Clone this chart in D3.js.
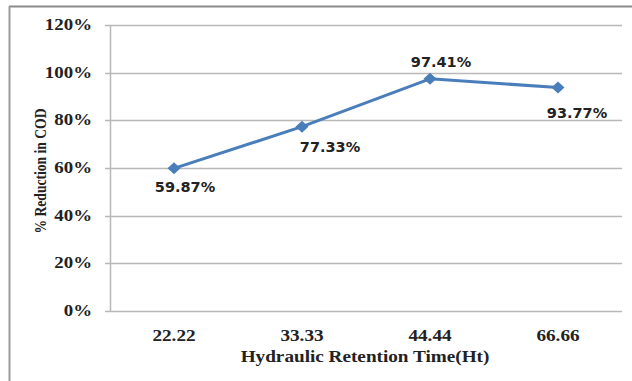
<!DOCTYPE html>
<html><head><meta charset="utf-8">
<script src="https://cdn.jsdelivr.net/npm/d3@7"></script>
<style>body{margin:0;background:#fff}svg{display:block}</style>
</head><body>
<svg id="c" width="632" height="381"></svg>
<script>
const categories = ["22.22", "33.33", "44.44", "66.66"];
const values = [59.87, 77.33, 97.41, 93.77];
const yTicks = [0, 20, 40, 60, 80, 100, 120];
const labelPlacement = ["below", "below", "above", "below"];
const xTitle = "Hydraulic Retention Time(Ht)";
const yTitle = "% Reduction in COD";

const svg = d3.select("#c");
const x = d3.scaleBand().domain(categories).range([110, 622]);
const y = d3.scaleLinear().domain([0, 120]).range([311, 25]);
const serif = "'Liberation Serif', 'Times New Roman', serif";

// outer border
svg.append("line").attr("x1", 9).attr("x2", 632).attr("y1", 6.5).attr("y2", 6.5)
  .attr("stroke", "#8a8a8a").attr("stroke-width", 2);
svg.append("line").attr("x1", 9.5).attr("x2", 9.5).attr("y1", 6).attr("y2", 381)
  .attr("stroke", "#9a9a9a").attr("stroke-width", 2);

// gridlines
svg.append("g").selectAll("line").data(yTicks).join("line")
  .attr("x1", 105).attr("x2", 622)
  .attr("y1", d => Math.round(y(d)) + 0.5).attr("y2", d => Math.round(y(d)) + 0.5)
  .attr("stroke", "#b8b8b8").attr("stroke-width", 1.5);
svg.append("line").attr("x1", 110.5).attr("x2", 110.5).attr("y1", y(120)).attr("y2", y(0))
  .attr("stroke", "#b8b8b8").attr("stroke-width", 1.5);

// y tick labels (horizontally stretched serif bold)
svg.append("g").selectAll("text").data(yTicks).join("text")
  .attr("transform", d => `translate(92,${y(d) + 5}) scale(1.18,1)`)
  .attr("text-anchor", "end")
  .attr("font-family", serif).attr("font-weight", "bold").attr("font-size", 16)
  .attr("fill", "#222")
  .text(d => d + "%");

// x tick labels
svg.append("g").selectAll("text").data(categories).join("text")
  .attr("transform", d => `translate(${x(d) + x.bandwidth() / 2},341) scale(1.2,1)`)
  .attr("text-anchor", "middle")
  .attr("font-family", serif).attr("font-weight", "bold").attr("font-size", 16)
  .attr("fill", "#222")
  .text(d => d);

// titles
svg.append("text").attr("transform", "translate(365,362) scale(1.2,1)").attr("text-anchor", "middle")
  .attr("font-family", serif).attr("font-weight", "bold").attr("font-size", 16)
  .attr("fill", "#222").text(xTitle);
svg.append("text").attr("transform", "translate(46,171) rotate(-90) scale(0.85,1)").attr("text-anchor", "middle")
  .attr("font-family", serif).attr("font-weight", "bold").attr("font-size", 16)
  .attr("fill", "#222").text(yTitle);

// line
const cx = d => x(d) + x.bandwidth() / 2;
const line = d3.line().x((d, i) => cx(categories[i])).y(d => y(d));
svg.append("path").datum(values).attr("d", line)
  .attr("fill", "none").attr("stroke", "#4a7ebb").attr("stroke-width", 3)
  .attr("stroke-linejoin", "round");

// markers (square diamonds)
svg.append("g").selectAll("path").data(values).join("path")
  .attr("transform", (d, i) => `translate(${cx(categories[i])},${y(d)})`)
  .attr("d", "M0,-6L6.5,0L0,6L-6.5,0Z")
  .attr("fill", "#4a7ebb");

// data labels
svg.append("g").selectAll("text").data(values).join("text")
  .attr("x", (d, i) => cx(categories[i]) + (i === 1 ? 28 : i === 3 ? 19 : 11))
  .attr("y", (d, i) => labelPlacement[i] === "above" ? y(d) - 12 : y(d) + (i === 0 ? 24 : i === 1 ? 25 : 30))
  .attr("text-anchor", "middle")
  .attr("font-family", "'DejaVu Sans', Verdana, sans-serif")
  .attr("font-weight", "bold").attr("font-size", 14.5)
  .attr("fill", "#222")
  .text(d => d.toFixed(2) + "%");
</script>
</body></html>
